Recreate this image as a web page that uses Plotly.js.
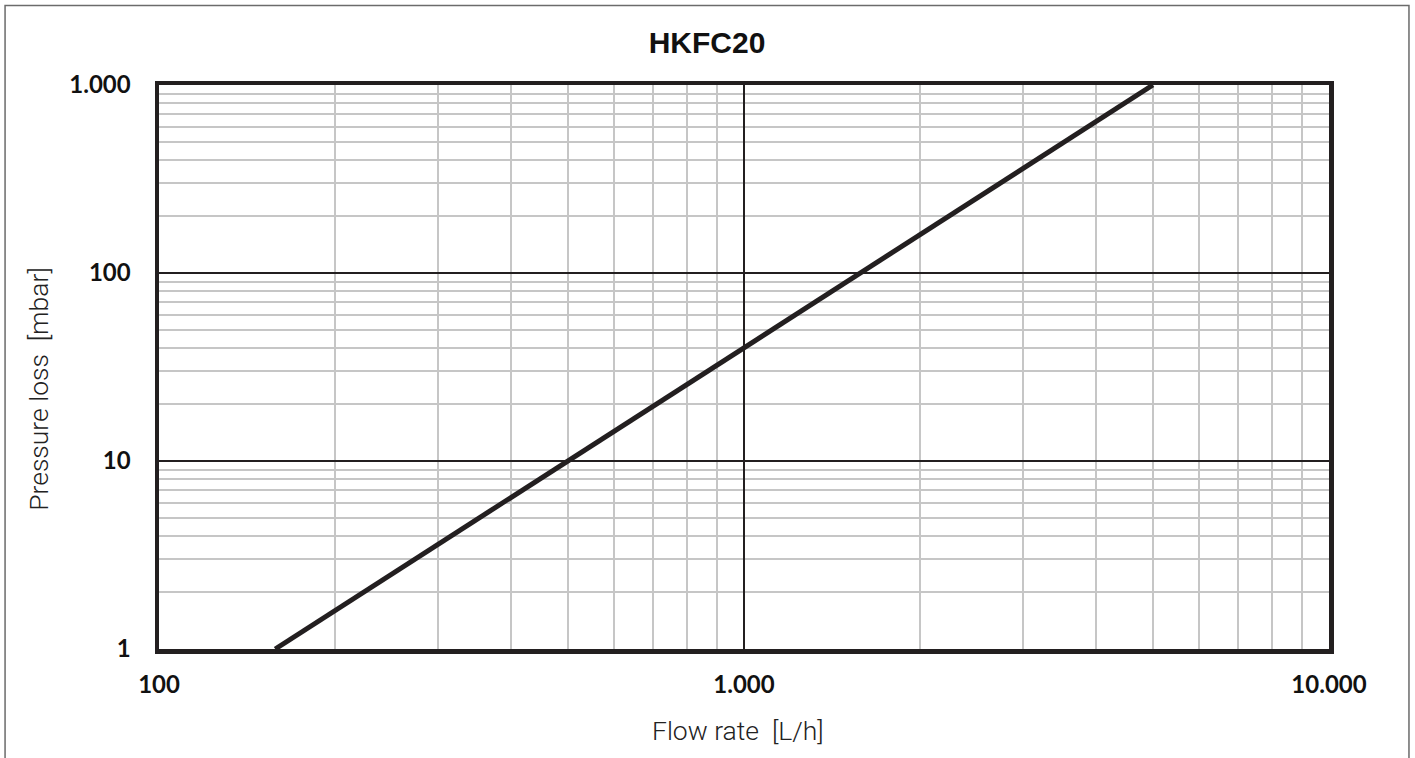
<!DOCTYPE html>
<html>
<head>
<meta charset="utf-8">
<script src="https://cdn.plot.ly/plotly-3.0.1.min.js"></script>
<style>html,body{margin:0;padding:0;background:#fff;}#chart{width:1415px;height:758px;}</style>
</head>
<body>
<div id="chart"></div>
<script>
// Data (log-log, quadratic characteristic)
const flowRate = [158, 500, 1000, 1580, 5000];        // L/h
const pressureLoss = [1, 10, 40, 100, 1000];           // mbar

const xTickVals = [100, 1000, 10000];
const xTickText = ["100", "1.000", "10.000"];
const yTickVals = [1, 10, 100, 1000];
const yTickText = ["1", "10", "100", "1.000"];
const xMinorVals = [200, 300, 400, 500, 600, 700, 800, 900, 2000, 3000, 4000, 5000, 6000, 7000, 8000, 9000];
const yMinorVals = [2, 3, 4, 5, 6, 7, 8, 9, 20, 30, 40, 50, 60, 70, 80, 90, 200, 300, 400, 500, 600, 700, 800, 900];

const W = 1415, H = 758;
const M = {l: 159, r: 85.5, t: 85, b: 108.5};
const pw = W - M.l - M.r, ph = H - M.t - M.b;
const px = x => (x - M.l) / pw;
const py = y => (H - M.b - y) / ph;

const dark = '#231f20';

const trace = {
  x: flowRate, y: pressureLoss, type: 'scatter', mode: 'lines',
  line: {color: dark, width: 5}, hoverinfo: 'x+y', cliponaxis: true
};

const tickFont = {family: 'Lato, "Open Sans", sans-serif', size: 24, color: '#111', weight: 700};
const titleFont = {family: 'Roboto, "Liberation Sans", sans-serif', size: 26.5, color: '#222', weight: 300};

const layout = {
  width: W, height: H,
  margin: M,
  paper_bgcolor: '#fff', plot_bgcolor: '#fff',
  showlegend: false,
  title: {text: '<b>HKFC20</b>', x: 707 / W, xref: 'container', xanchor: 'center', y: 1 - 42 / H, yref: 'container', yanchor: 'middle',
          font: {family: '"Liberation Sans", Arial, sans-serif', size: 30, color: '#111'}},
  xaxis: {
    type: 'log', range: [2, 4],
    tickmode: 'array', tickvals: xTickVals, ticktext: xTickText,
    tickfont: tickFont, ticks: '', ticklabelstandoff: 11,
    showgrid: true, gridcolor: dark, gridwidth: 1.5,
    minor: {tickmode: 'array', tickvals: xMinorVals, showgrid: true, gridcolor: '#c6c6c6', gridwidth: 2, ticks: ''},
    showline: true, linecolor: dark, linewidth: 4.5, mirror: true,
    zeroline: false, fixedrange: true
  },
  yaxis: {
    type: 'log', range: [0, 3],
    tickmode: 'array', tickvals: yTickVals, ticktext: yTickText,
    tickfont: tickFont, ticks: '', ticklabelstandoff: 19,
    showgrid: true, gridcolor: dark, gridwidth: 1.5,
    minor: {tickmode: 'array', tickvals: yMinorVals, showgrid: true, gridcolor: '#c6c6c6', gridwidth: 2, ticks: ''},
    showline: true, linecolor: dark, linewidth: 4.5, mirror: true,
    zeroline: false, fixedrange: true
  },
  annotations: [
    {text: 'Flow rate  [L/h]', xref: 'paper', yref: 'paper', x: px(738), y: py(731),
     xanchor: 'center', yanchor: 'middle', showarrow: false, font: titleFont},
    {text: 'Pressure loss  [mbar]', xref: 'paper', yref: 'paper', x: px(39), y: py(389),
     xanchor: 'center', yanchor: 'middle', showarrow: false, textangle: -90, font: titleFont}
  ],
  shapes: [
    {type: 'rect', xref: 'paper', yref: 'paper', x0: px(5), x1: px(1409.5), y0: py(5.5), y1: py(800),
     line: {color: '#6b6b6b', width: 1.5}, fillcolor: 'rgba(0,0,0,0)', layer: 'below'}
  ]
};

Plotly.newPlot('chart', [trace], layout, {displayModeBar: false, staticPlot: true});
</script>
</body>
</html>
